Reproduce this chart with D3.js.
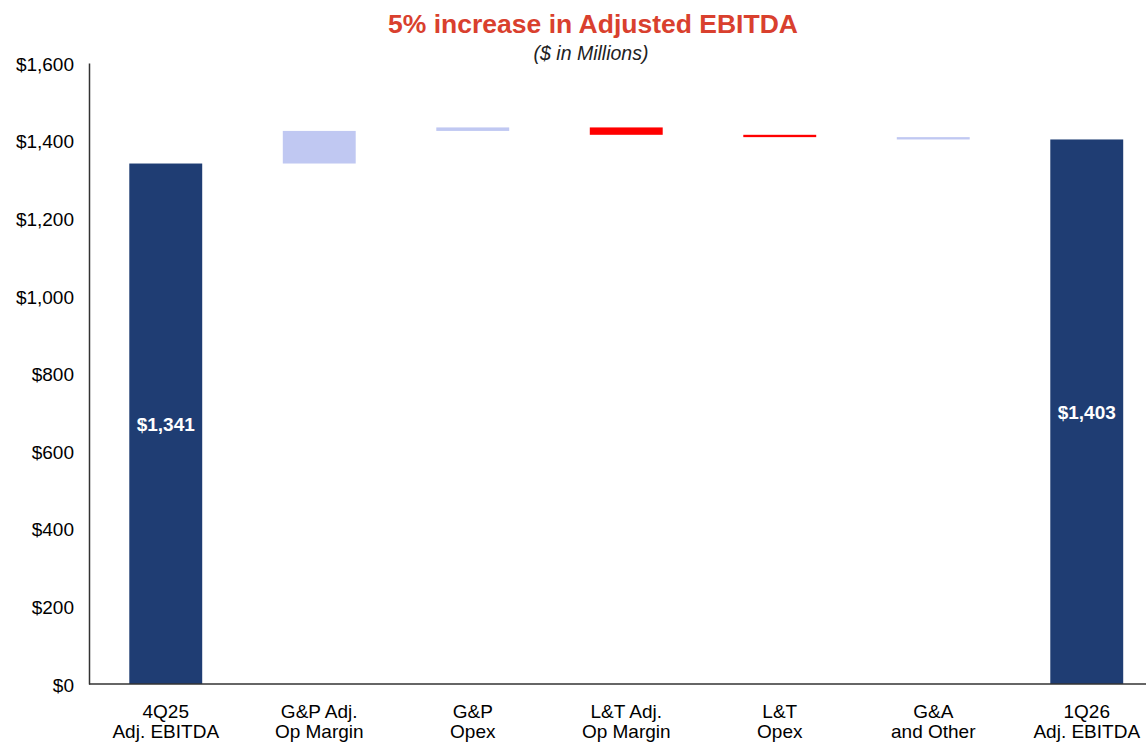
<!DOCTYPE html>
<html><head><meta charset="utf-8">
<script src="https://cdn.jsdelivr.net/npm/d3@7"></script>
<style>body{margin:0;background:#fff}svg{display:block}text{font-family:"Liberation Sans",Arial,sans-serif}</style>
</head><body><svg id="c" width="1146" height="744"></svg>
<script>
const categories = [["4Q25","Adj. EBITDA"],["G&P Adj.","Op Margin"],["G&P","Opex"],["L&T Adj.","Op Margin"],["L&T","Opex"],["G&A","and Other"],["1Q26","Adj. EBITDA"]];
const kinds = ["total","delta","delta","delta","delta","delta","total"];
const values = [1341, 84, 9, -19, -6, -6, 1403];
const yTicks = [0,200,400,600,800,1000,1200,1400,1600];
const barColors = ["#1f3d73","#c0c8f2","#c0c8f2","#ff0000","#ff0000","#c0c8f2","#1f3d73"];

const svg = d3.select("#c");
const x = d3.scaleBand().domain(d3.range(categories.length)).range([89, 89+7*153.5]).paddingInner(0.525).paddingOuter(0.2625);
const y = d3.scaleLinear().domain([0,1600]).range([684, 63]);

let run = 0;
const bars = values.map((v,i)=>{
  let lo, hi;
  if (kinds[i]==="total"){ lo=0; hi=v; run=v; }
  else { const s=run; run+=v; lo=Math.min(s,run); hi=Math.max(s,run); }
  return {i, lo, hi, v};
});

svg.selectAll("rect.bar").data(bars).enter().append("rect")
  .attr("x", d=>x(d.i)).attr("width", x.bandwidth())
  .attr("y", d=>y(d.hi)).attr("height", d=>y(d.lo)-y(d.hi))
  .attr("fill", d=>barColors[d.i]);

// axes
const yAxis = d3.axisLeft(y).tickValues(yTicks).tickSize(0).tickPadding(15).tickFormat(d=>"$"+d3.format(",")(d));
const gy = svg.append("g").attr("transform","translate(89,0)").call(yAxis);
gy.select(".domain").attr("stroke","#333").attr("stroke-width",1.5);
gy.selectAll("text").attr("font-size",19).attr("fill","#000").attr("dy","0.38em").attr("font-family","Liberation Sans, Arial, sans-serif");

svg.append("line").attr("x1",89).attr("x2",1146).attr("y1",y(0)).attr("y2",y(0)).attr("stroke","#333").attr("stroke-width",1.5);

// x labels
const xl = svg.selectAll("text.xl").data(categories).enter().append("text")
  .attr("text-anchor","middle").attr("font-size",19).attr("fill","#000");
xl.each(function(d,i){
  const t=d3.select(this);
  t.append("tspan").attr("x", x(i)+x.bandwidth()/2).attr("y",718).text(d[0]);
  t.append("tspan").attr("x", x(i)+x.bandwidth()/2).attr("y",738).text(d[1]);
});

// value labels in totals
svg.selectAll("text.vl").data(bars.filter(d=>kinds[d.i]==="total")).enter().append("text")
  .attr("x", d=>x(d.i)+x.bandwidth()/2).attr("y", d=>(y(d.hi)+y(0))/2+7)
  .attr("text-anchor","middle").attr("font-size",19).attr("font-weight","bold").attr("fill","#fff")
  .text(d=>"$"+d3.format(",")(d.v));

svg.append("text").attr("x",593).attr("y",33).attr("text-anchor","middle").attr("font-size",26.5).attr("font-weight","bold").attr("fill","#d9402e").text("5% increase in Adjusted EBITDA");
svg.append("text").attr("x",591).attr("y",60).attr("text-anchor","middle").attr("font-size",19.5).attr("font-style","italic").attr("fill","#222").text("($ in Millions)");
</script></body></html>
